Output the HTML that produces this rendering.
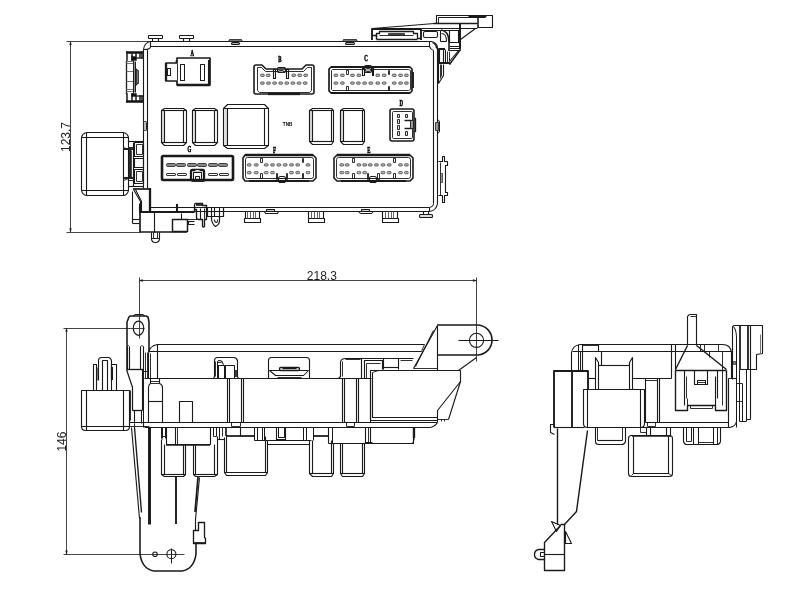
<!DOCTYPE html>
<html><head><meta charset="utf-8"><title>Fuse box drawing</title>
<style>
html,body{margin:0;padding:0;background:#fff;}
body{width:791px;height:600px;overflow:hidden;}
svg{display:block;font-family:"Liberation Sans",sans-serif;filter:grayscale(1);}
</style></head><body>
<svg width="791" height="600" viewBox="0 0 791 600" fill="none" stroke="#1a1a1a" stroke-width="1" stroke-linejoin="round" stroke-linecap="butt">
<polyline points="66.5,41.5 150.5,41.5" stroke-width="1.01" stroke="#444"/>
<polyline points="70.5,41.5 70.5,232.5" stroke-width="1.01" stroke="#444"/>
<polyline points="66.5,232.5 140.5,232.5" stroke-width="1.01" stroke="#444"/>
<polygon points="70.5,41.5 69.6,45 71.4,45" stroke-width="0.4" fill="#222"/>
<polygon points="70.5,232 69.6,228.5 71.4,228.5" stroke-width="0.4" fill="#222"/>
<text x="70.2" y="137" font-size="12" text-anchor="middle" fill="#222" stroke="none" transform="rotate(-90 70.2 137)">123.7</text>
<path d="M 143.5,188.5 V 49.5 Q 144.5,42.5 150.5,41.5 H 431.5 Q 437.5,42.5 437.5,48.5 V 203.5 Q 436.5,210.5 429.5,211.5 H 150.5" stroke-width="1.12"/>
<path d="M 147.5,188.5 V 49.5 M 143.5,49.5 H 147.5 M 150.5,41.5 V 46.5 H 429.5 M 433.5,50.5 V 203.5 M 429.5,207.5 H 150.5 M 429.5,207.5 V 211.5" stroke-width="1.12"/>
<path d="M 144.5,49.5 Q 150.5,49.5 150.5,46.5" stroke-width="1.01"/>
<path d="M 429.5,41.5 V 46.5 Q 430.5,49.5 433.5,50.5" stroke-width="1.01"/>
<path d="M 432.5,42.5 Q 436.5,44.5 436.5,48.5" stroke-width="1.37"/>
<path d="M 433.5,203.5 Q 433.5,206.5 429.5,207.5" stroke-width="1.01"/>
<rect x="148.5" y="35.5" width="14" height="3" rx="0.6" stroke-width="1.12"/>
<polyline points="152.5,38.5 152.5,41.5" stroke-width="1.12"/>
<polyline points="158.5,38.5 158.5,41.5" stroke-width="1.12"/>
<rect x="179.5" y="35.5" width="14" height="3" rx="0.6" stroke-width="1.12"/>
<polyline points="183.5,38.5 183.5,41.5" stroke-width="1.12"/>
<polyline points="189.5,38.5 189.5,41.5" stroke-width="1.12"/>
<polygon points="228.5,41.5 229.5,39.5 241.5,39.5 242.5,41.5" stroke-width="0.78" fill="#777"/>
<rect x="231.5" y="42.5" width="8" height="2" rx="1" stroke-width="1.01" fill="#aaa"/>
<polygon points="342.5,41.5 343.5,39.5 356.5,39.5 357.5,41.5" stroke-width="0.78" fill="#777"/>
<rect x="345.5" y="42.5" width="9" height="2" rx="1" stroke-width="1.01" fill="#aaa"/>
<polyline points="372.5,28.5 434.5,23.5" stroke-width="1.12"/>
<rect x="161.5" y="110.5" width="3" height="32" stroke-width="0.01" fill="#ddd"/>
<path d="M 161.5,110.5 L 164.5,108.5 H 183.5 L 186.5,110.5 V 142.5 L 183.5,145.5 H 164.5 L 161.5,142.5 Z" stroke-width="1.12"/>
<polyline points="161.5,110.5 186.5,110.5" stroke-width="1.12"/>
<polyline points="161.5,142.5 186.5,142.5" stroke-width="1.12"/>
<polyline points="164.5,110.5 164.5,142.5" stroke-width="1.12"/>
<polyline points="183.5,110.5 183.5,142.5" stroke-width="1.12"/>
<rect x="193.5" y="110.5" width="2" height="32" stroke-width="0.01" fill="#ddd"/>
<path d="M 192.5,110.5 L 195.5,108.5 H 214.5 L 217.5,110.5 V 142.5 L 214.5,145.5 H 195.5 L 192.5,142.5 Z" stroke-width="1.12"/>
<polyline points="192.5,110.5 217.5,110.5" stroke-width="1.12"/>
<polyline points="192.5,142.5 217.5,142.5" stroke-width="1.12"/>
<polyline points="195.5,110.5 195.5,142.5" stroke-width="1.12"/>
<polyline points="214.5,110.5 214.5,142.5" stroke-width="1.12"/>
<rect x="224.5" y="108.5" width="3" height="37" stroke-width="0.01" fill="#ddd"/>
<path d="M 223.5,108.5 L 227.5,104.5 H 264.5 L 268.5,108.5 V 145.5 L 264.5,148.5 H 227.5 L 223.5,145.5 Z" stroke-width="1.12"/>
<polyline points="223.5,108.5 268.5,108.5" stroke-width="1.12"/>
<polyline points="223.5,145.5 268.5,145.5" stroke-width="1.12"/>
<polyline points="227.5,108.5 227.5,145.5" stroke-width="1.12"/>
<polyline points="264.5,108.5 264.5,145.5" stroke-width="1.12"/>
<rect x="309.5" y="110.5" width="3" height="31" stroke-width="0.01" fill="#ddd"/>
<path d="M 309.5,110.5 L 312.5,108.5 H 331.5 L 333.5,110.5 V 141.5 L 331.5,144.5 H 312.5 L 309.5,141.5 Z" stroke-width="1.12"/>
<polyline points="309.5,110.5 333.5,110.5" stroke-width="1.12"/>
<polyline points="309.5,141.5 333.5,141.5" stroke-width="1.12"/>
<polyline points="312.5,110.5 312.5,141.5" stroke-width="1.12"/>
<polyline points="331.5,110.5 331.5,141.5" stroke-width="1.12"/>
<rect x="340.5" y="110.5" width="3" height="31" stroke-width="0.01" fill="#ddd"/>
<path d="M 340.5,110.5 L 343.5,108.5 H 362.5 L 364.5,110.5 V 141.5 L 362.5,144.5 H 343.5 L 340.5,141.5 Z" stroke-width="1.12"/>
<polyline points="340.5,110.5 364.5,110.5" stroke-width="1.12"/>
<polyline points="340.5,141.5 364.5,141.5" stroke-width="1.12"/>
<polyline points="343.5,110.5 343.5,141.5" stroke-width="1.12"/>
<polyline points="362.5,110.5 362.5,141.5" stroke-width="1.12"/>
<text x="287.6" y="126.2" font-size="4.6" text-anchor="middle" fill="#000" stroke="none" font-weight="bold">TNB</text>
<path d="M 177,58 H 210 V 85 H 177 V 81 H 166 V 63 H 177 Z" stroke-width="1.68"/>
<polyline points="177,85 210,85" stroke-width="2.52"/>
<polyline points="209,60 209,85" stroke-width="2.1"/>
<polyline points="166,63 166,81" stroke-width="2.31"/>
<polyline points="175.5,61.5 177.5,60.5" stroke-width="1.12"/>
<rect x="180.5" y="64.5" width="4" height="16" stroke-width="1.01"/>
<rect x="200.5" y="64.5" width="4" height="16" stroke-width="1.01"/>
<rect x="167.5" y="68.5" width="3" height="7" stroke-width="1.01"/>
<polyline points="177.5,63.5 177.5,80.5" stroke-width="0.9"/>
<text transform="translate(192.3 56.3) scale(0.62 1)" font-size="7.8" font-weight="bold" text-anchor="middle" fill="#000" stroke="#000" stroke-width="0.55" font-family="Liberation Serif,serif">A</text>
<path d="M 256,65 H 262 L 266,69 H 302 L 306,65 H 312 Q 314,65 314,67 V 92 Q 314,94 312,94 H 256 Q 254,94 254,92 V 67 Q 254,65 256,65 Z" stroke-width="1.58"/>
<path d="M 257.5,67.5 H 261.5 L 265.5,71.5 H 303.5 L 307.5,67.5 H 311.5 V 90.5 L 309.5,92.5 H 259.5 L 257.5,90.5 Z" stroke-width="0.9"/>
<polyline points="268,94 300,94" stroke-width="2.31"/>
<rect x="277.5" y="67.5" width="8" height="5" rx="1.2" stroke-width="1.12"/>
<rect x="278.5" y="70.5" width="5" height="2" rx="0.8" stroke-width="0.9" fill="#aaa"/>
<rect x="273.5" y="69.5" width="2" height="9" stroke-width="1.12"/>
<rect x="286.5" y="69.5" width="2" height="9" stroke-width="1.12"/>
<rect x="260.5" y="74.1" width="3.8" height="2.4" rx="1" stroke="#333" stroke-width="0.7" fill="#b5b5b5"/>
<rect x="266.3" y="74.1" width="3.8" height="2.4" rx="1" stroke="#333" stroke-width="0.7" fill="#b5b5b5"/>
<rect x="291.8" y="74.1" width="3.8" height="2.4" rx="1" stroke="#333" stroke-width="0.7" fill="#b5b5b5"/>
<rect x="297.8" y="74.1" width="3.8" height="2.4" rx="1" stroke="#333" stroke-width="0.7" fill="#b5b5b5"/>
<rect x="303.8" y="74.1" width="3.8" height="2.4" rx="1" stroke="#333" stroke-width="0.7" fill="#b5b5b5"/>
<rect x="260.5" y="81.9" width="3.8" height="2.4" rx="1" stroke="#333" stroke-width="0.7" fill="#b5b5b5"/>
<rect x="266.6" y="81.9" width="3.8" height="2.4" rx="1" stroke="#333" stroke-width="0.7" fill="#b5b5b5"/>
<rect x="272.7" y="81.9" width="3.8" height="2.4" rx="1" stroke="#333" stroke-width="0.7" fill="#b5b5b5"/>
<rect x="278.8" y="81.9" width="3.8" height="2.4" rx="1" stroke="#333" stroke-width="0.7" fill="#b5b5b5"/>
<rect x="284.9" y="81.9" width="3.8" height="2.4" rx="1" stroke="#333" stroke-width="0.7" fill="#b5b5b5"/>
<rect x="291" y="81.9" width="3.8" height="2.4" rx="1" stroke="#333" stroke-width="0.7" fill="#b5b5b5"/>
<rect x="297.1" y="81.9" width="3.8" height="2.4" rx="1" stroke="#333" stroke-width="0.7" fill="#b5b5b5"/>
<rect x="303.2" y="81.9" width="3.8" height="2.4" rx="1" stroke="#333" stroke-width="0.7" fill="#b5b5b5"/>
<text transform="translate(279.8 61.8) scale(0.62 1)" font-size="7.8" font-weight="bold" text-anchor="middle" fill="#000" stroke="#000" stroke-width="0.55" font-family="Liberation Serif,serif">B</text>
<path d="M 331,67 H 410 L 412,69 V 91 L 410,93 H 331 L 329,91 V 69 Z" stroke-width="1.68"/>
<path d="M 332.5,69.5 H 408.5 L 410.5,70.5 V 89.5 L 408.5,90.5 H 332.5 L 331.5,89.5 V 70.5 Z" stroke-width="0.9"/>
<polyline points="331,67 410,67" stroke-width="2.1"/>
<polyline points="331,93 410,93" stroke-width="2.1"/>
<polyline points="413,72 413,88" stroke-width="1.89"/>
<rect x="364.5" y="65.5" width="7" height="7" rx="1.5" stroke-width="1.12"/>
<rect x="365.5" y="68.5" width="5" height="3" rx="0.8" stroke-width="0.9" fill="#bbb"/>
<rect x="362.5" y="68.5" width="2" height="7" stroke-width="1.12"/>
<rect x="372.5" y="68.5" width="1" height="7" stroke-width="1.12"/>
<rect x="346.5" y="70.5" width="2" height="4" stroke-width="0.9"/>
<rect x="346.5" y="86.5" width="2" height="4" stroke-width="0.9"/>
<rect x="388.5" y="70.5" width="1" height="4" stroke-width="0.9"/>
<rect x="388.5" y="86.5" width="1" height="4" stroke-width="0.9"/>
<rect x="334" y="74.1" width="3.8" height="2.4" rx="1" stroke="#333" stroke-width="0.7" fill="#b5b5b5"/>
<rect x="340.5" y="74.1" width="3.8" height="2.4" rx="1" stroke="#333" stroke-width="0.7" fill="#b5b5b5"/>
<rect x="350.6" y="74.1" width="3.8" height="2.4" rx="1" stroke="#333" stroke-width="0.7" fill="#b5b5b5"/>
<rect x="357" y="74.1" width="3.8" height="2.4" rx="1" stroke="#333" stroke-width="0.7" fill="#b5b5b5"/>
<rect x="375.9" y="74.1" width="3.8" height="2.4" rx="1" stroke="#333" stroke-width="0.7" fill="#b5b5b5"/>
<rect x="382.3" y="74.1" width="3.8" height="2.4" rx="1" stroke="#333" stroke-width="0.7" fill="#b5b5b5"/>
<rect x="392.3" y="74.1" width="3.8" height="2.4" rx="1" stroke="#333" stroke-width="0.7" fill="#b5b5b5"/>
<rect x="398.7" y="74.1" width="3.8" height="2.4" rx="1" stroke="#333" stroke-width="0.7" fill="#b5b5b5"/>
<rect x="404.5" y="74.1" width="3.8" height="2.4" rx="1" stroke="#333" stroke-width="0.7" fill="#b5b5b5"/>
<rect x="334" y="81.9" width="3.8" height="2.4" rx="1" stroke="#333" stroke-width="0.7" fill="#b5b5b5"/>
<rect x="340.5" y="81.9" width="3.8" height="2.4" rx="1" stroke="#333" stroke-width="0.7" fill="#b5b5b5"/>
<rect x="350.6" y="81.9" width="3.8" height="2.4" rx="1" stroke="#333" stroke-width="0.7" fill="#b5b5b5"/>
<rect x="356.5" y="81.9" width="3.8" height="2.4" rx="1" stroke="#333" stroke-width="0.7" fill="#b5b5b5"/>
<rect x="362.7" y="81.9" width="3.8" height="2.4" rx="1" stroke="#333" stroke-width="0.7" fill="#b5b5b5"/>
<rect x="368.9" y="81.9" width="3.8" height="2.4" rx="1" stroke="#333" stroke-width="0.7" fill="#b5b5b5"/>
<rect x="375.9" y="81.9" width="3.8" height="2.4" rx="1" stroke="#333" stroke-width="0.7" fill="#b5b5b5"/>
<rect x="382.3" y="81.9" width="3.8" height="2.4" rx="1" stroke="#333" stroke-width="0.7" fill="#b5b5b5"/>
<rect x="392.3" y="81.9" width="3.8" height="2.4" rx="1" stroke="#333" stroke-width="0.7" fill="#b5b5b5"/>
<rect x="398.7" y="81.9" width="3.8" height="2.4" rx="1" stroke="#333" stroke-width="0.7" fill="#b5b5b5"/>
<rect x="404.5" y="81.9" width="3.8" height="2.4" rx="1" stroke="#333" stroke-width="0.7" fill="#b5b5b5"/>
<text transform="translate(366.1 61) scale(0.62 1)" font-size="7.8" font-weight="bold" text-anchor="middle" fill="#000" stroke="#000" stroke-width="0.55" font-family="Liberation Serif,serif">C</text>
<rect x="390" y="109" width="24" height="32" rx="2" stroke-width="1.58"/>
<rect x="392.5" y="111.5" width="20" height="27" rx="1.2" stroke-width="0.9"/>
<path d="M 414.5,118.5 H 415.5 V 131.5 H 414.5" stroke-width="1.34"/>
<rect x="397.5" y="114.5" width="2" height="3" stroke-width="0.9" fill="#ddd"/>
<rect x="397.5" y="119.5" width="2" height="4" stroke-width="0.9" fill="#ddd"/>
<rect x="397.5" y="125.5" width="2" height="4" stroke-width="0.9" fill="#ddd"/>
<rect x="397.5" y="131.5" width="2" height="4" stroke-width="0.9" fill="#ddd"/>
<rect x="405.5" y="114.5" width="2" height="3" stroke-width="0.9" fill="#ddd"/>
<rect x="405.5" y="131.5" width="2" height="4" stroke-width="0.9" fill="#ddd"/>
<polyline points="404.5,120.5 411.5,120.5" stroke-width="1.47"/>
<polyline points="404.5,128.5 411.5,128.5" stroke-width="1.47"/>
<rect x="410.5" y="120.5" width="3" height="8" stroke-width="0.9" fill="#999"/>
<text transform="translate(401.3 106) scale(0.62 1)" font-size="7.8" font-weight="bold" text-anchor="middle" fill="#000" stroke="#000" stroke-width="0.55" font-family="Liberation Serif,serif">D</text>
<rect x="162" y="156" width="71" height="24" rx="1.2" stroke-width="2.62"/>
<rect x="166.5" y="163.5" width="9" height="3" rx="1.1" stroke-width="0.78" fill="#888"/>
<rect x="176.5" y="163.5" width="9" height="3" rx="1.1" stroke-width="0.78" fill="#888"/>
<rect x="187.5" y="163.5" width="9" height="3" rx="1.1" stroke-width="0.78" fill="#888"/>
<rect x="197.5" y="163.5" width="9" height="3" rx="1.1" stroke-width="0.78" fill="#888"/>
<rect x="208.5" y="163.5" width="9" height="3" rx="1.1" stroke-width="0.78" fill="#888"/>
<rect x="218.5" y="163.5" width="9" height="3" rx="1.1" stroke-width="0.78" fill="#888"/>
<rect x="166.5" y="173.5" width="9" height="2" rx="0.5" stroke-width="0.9"/>
<rect x="177.5" y="173.5" width="9" height="2" rx="0.5" stroke-width="0.9"/>
<rect x="208.5" y="173.5" width="9" height="2" rx="0.5" stroke-width="0.9"/>
<rect x="219.5" y="173.5" width="9" height="2" rx="0.5" stroke-width="0.9"/>
<path d="M 191,180 V 172 Q 191,170 192,170 H 203 Q 204,170 204,172 V 180" stroke-width="2.31"/>
<rect x="193.5" y="172.5" width="8" height="7" stroke-width="1.01"/>
<rect x="195.5" y="176.5" width="4" height="3" stroke-width="1.01"/>
<polyline points="195.5,170.5 199.5,170.5" stroke-width="0.9" stroke="#fff"/>
<polyline points="191.5,181.5 204.5,181.5" stroke-width="0.9"/>
<text transform="translate(189.4 151.5) scale(0.62 1)" font-size="7.8" font-weight="bold" text-anchor="middle" fill="#000" stroke="#000" stroke-width="0.55" font-family="Liberation Serif,serif">G</text>
<path d="M 245,155 H 313 L 316,158 V 178 L 313,181 H 245 L 243,178 V 158 Z" stroke-width="1.58"/>
<rect x="245.5" y="157.5" width="68" height="21" rx="2" stroke-width="0.9"/>
<polyline points="245,155 313,155" stroke-width="2.31"/>
<polyline points="249,181 309,181" stroke-width="2.1"/>
<rect x="278.5" y="176.5" width="7" height="6" rx="2" stroke-width="1.12"/>
<polyline points="278.5,178.5 285.5,178.5" stroke-width="0.9"/>
<rect x="276.5" y="173.5" width="1" height="6" stroke-width="0.9"/>
<rect x="286.5" y="173.5" width="1" height="6" stroke-width="0.9"/>
<rect x="260.5" y="158.5" width="2" height="4" stroke-width="0.9"/>
<rect x="260.5" y="173.5" width="2" height="5" stroke-width="0.9"/>
<rect x="302.5" y="158.5" width="1" height="4" stroke-width="0.9"/>
<rect x="302.5" y="173.5" width="1" height="5" stroke-width="0.9"/>
<rect x="247.3" y="163.7" width="3.8" height="2.4" rx="1" stroke="#333" stroke-width="0.7" fill="#b5b5b5"/>
<rect x="254.3" y="163.7" width="3.8" height="2.4" rx="1" stroke="#333" stroke-width="0.7" fill="#b5b5b5"/>
<rect x="264.3" y="163.7" width="3.8" height="2.4" rx="1" stroke="#333" stroke-width="0.7" fill="#b5b5b5"/>
<rect x="270.6" y="163.7" width="3.8" height="2.4" rx="1" stroke="#333" stroke-width="0.7" fill="#b5b5b5"/>
<rect x="277" y="163.7" width="3.8" height="2.4" rx="1" stroke="#333" stroke-width="0.7" fill="#b5b5b5"/>
<rect x="283.3" y="163.7" width="3.8" height="2.4" rx="1" stroke="#333" stroke-width="0.7" fill="#b5b5b5"/>
<rect x="289.6" y="163.7" width="3.8" height="2.4" rx="1" stroke="#333" stroke-width="0.7" fill="#b5b5b5"/>
<rect x="295.8" y="163.7" width="3.8" height="2.4" rx="1" stroke="#333" stroke-width="0.7" fill="#b5b5b5"/>
<rect x="306.1" y="163.7" width="3.8" height="2.4" rx="1" stroke="#333" stroke-width="0.7" fill="#b5b5b5"/>
<rect x="247.3" y="171.4" width="3.8" height="2.4" rx="1" stroke="#333" stroke-width="0.7" fill="#b5b5b5"/>
<rect x="254.3" y="171.4" width="3.8" height="2.4" rx="1" stroke="#333" stroke-width="0.7" fill="#b5b5b5"/>
<rect x="264.3" y="171.4" width="3.8" height="2.4" rx="1" stroke="#333" stroke-width="0.7" fill="#b5b5b5"/>
<rect x="270.6" y="171.4" width="3.8" height="2.4" rx="1" stroke="#333" stroke-width="0.7" fill="#b5b5b5"/>
<rect x="289.6" y="171.4" width="3.8" height="2.4" rx="1" stroke="#333" stroke-width="0.7" fill="#b5b5b5"/>
<rect x="295.8" y="171.4" width="3.8" height="2.4" rx="1" stroke="#333" stroke-width="0.7" fill="#b5b5b5"/>
<rect x="306.1" y="171.4" width="3.8" height="2.4" rx="1" stroke="#333" stroke-width="0.7" fill="#b5b5b5"/>
<text transform="translate(274.4 153.2) scale(0.62 1)" font-size="7.8" font-weight="bold" text-anchor="middle" fill="#000" stroke="#000" stroke-width="0.55" font-family="Liberation Serif,serif">F</text>
<path d="M 337,155 H 410 L 413,158 V 178 L 410,181 H 337 L 334,178 V 158 Z" stroke-width="1.58"/>
<rect x="336.5" y="157.5" width="74" height="21" rx="2" stroke-width="0.9"/>
<polyline points="337,155 410,155" stroke-width="2.31"/>
<polyline points="341,181 406,181" stroke-width="2.1"/>
<rect x="369.5" y="176.5" width="7" height="6" rx="2" stroke-width="1.12"/>
<polyline points="370.5,178.5 376.5,178.5" stroke-width="0.9"/>
<rect x="367.5" y="173.5" width="1" height="6" stroke-width="0.9"/>
<rect x="377.5" y="173.5" width="2" height="6" stroke-width="0.9"/>
<rect x="352.5" y="158.5" width="2" height="4" stroke-width="0.9"/>
<rect x="352.5" y="173.5" width="2" height="5" stroke-width="0.9"/>
<rect x="393.5" y="158.5" width="2" height="4" stroke-width="0.9"/>
<rect x="393.5" y="173.5" width="2" height="5" stroke-width="0.9"/>
<rect x="339.9" y="163.7" width="3.8" height="2.4" rx="1" stroke="#333" stroke-width="0.7" fill="#b5b5b5"/>
<rect x="345.3" y="163.7" width="3.8" height="2.4" rx="1" stroke="#333" stroke-width="0.7" fill="#b5b5b5"/>
<rect x="357" y="163.7" width="3.8" height="2.4" rx="1" stroke="#333" stroke-width="0.7" fill="#b5b5b5"/>
<rect x="362.8" y="163.7" width="3.8" height="2.4" rx="1" stroke="#333" stroke-width="0.7" fill="#b5b5b5"/>
<rect x="368.3" y="163.7" width="3.8" height="2.4" rx="1" stroke="#333" stroke-width="0.7" fill="#b5b5b5"/>
<rect x="374.5" y="163.7" width="3.8" height="2.4" rx="1" stroke="#333" stroke-width="0.7" fill="#b5b5b5"/>
<rect x="381.1" y="163.7" width="3.8" height="2.4" rx="1" stroke="#333" stroke-width="0.7" fill="#b5b5b5"/>
<rect x="387.3" y="163.7" width="3.8" height="2.4" rx="1" stroke="#333" stroke-width="0.7" fill="#b5b5b5"/>
<rect x="398.6" y="163.7" width="3.8" height="2.4" rx="1" stroke="#333" stroke-width="0.7" fill="#b5b5b5"/>
<rect x="404.5" y="163.7" width="3.8" height="2.4" rx="1" stroke="#333" stroke-width="0.7" fill="#b5b5b5"/>
<rect x="339.9" y="171.4" width="3.8" height="2.4" rx="1" stroke="#333" stroke-width="0.7" fill="#b5b5b5"/>
<rect x="345.3" y="171.4" width="3.8" height="2.4" rx="1" stroke="#333" stroke-width="0.7" fill="#b5b5b5"/>
<rect x="357" y="171.4" width="3.8" height="2.4" rx="1" stroke="#333" stroke-width="0.7" fill="#b5b5b5"/>
<rect x="362.8" y="171.4" width="3.8" height="2.4" rx="1" stroke="#333" stroke-width="0.7" fill="#b5b5b5"/>
<rect x="381.1" y="171.4" width="3.8" height="2.4" rx="1" stroke="#333" stroke-width="0.7" fill="#b5b5b5"/>
<rect x="387.3" y="171.4" width="3.8" height="2.4" rx="1" stroke="#333" stroke-width="0.7" fill="#b5b5b5"/>
<rect x="398.6" y="171.4" width="3.8" height="2.4" rx="1" stroke="#333" stroke-width="0.7" fill="#b5b5b5"/>
<rect x="404.5" y="171.4" width="3.8" height="2.4" rx="1" stroke="#333" stroke-width="0.7" fill="#b5b5b5"/>
<text transform="translate(368.8 153.2) scale(0.62 1)" font-size="7.8" font-weight="bold" text-anchor="middle" fill="#000" stroke="#000" stroke-width="0.55" font-family="Liberation Serif,serif">E</text>
<rect x="244.5" y="218.5" width="16" height="4" stroke-width="1.12"/>
<polyline points="245.5,211.5 245.5,218.5" stroke-width="1.12"/>
<polyline points="259.5,211.5 259.5,218.5" stroke-width="1.12"/>
<polyline points="247.5,211.5 247.5,218.5" stroke-width="0.9" stroke="#555"/>
<polyline points="250.5,211.5 250.5,218.5" stroke-width="0.9" stroke="#555"/>
<polyline points="253.5,211.5 253.5,218.5" stroke-width="0.9" stroke="#555"/>
<polyline points="255.5,211.5 255.5,218.5" stroke-width="0.9" stroke="#555"/>
<rect x="308.5" y="218.5" width="16" height="4" stroke-width="1.12"/>
<polyline points="308.5,211.5 308.5,218.5" stroke-width="1.12"/>
<polyline points="323.5,211.5 323.5,218.5" stroke-width="1.12"/>
<polyline points="311.5,211.5 311.5,218.5" stroke-width="0.9" stroke="#555"/>
<polyline points="314.5,211.5 314.5,218.5" stroke-width="0.9" stroke="#555"/>
<polyline points="317.5,211.5 317.5,218.5" stroke-width="0.9" stroke="#555"/>
<polyline points="319.5,211.5 319.5,218.5" stroke-width="0.9" stroke="#555"/>
<rect x="382.5" y="218.5" width="16" height="4" stroke-width="1.12"/>
<polyline points="382.5,211.5 382.5,218.5" stroke-width="1.12"/>
<polyline points="397.5,211.5 397.5,218.5" stroke-width="1.12"/>
<polyline points="385.5,211.5 385.5,218.5" stroke-width="0.9" stroke="#555"/>
<polyline points="388.5,211.5 388.5,218.5" stroke-width="0.9" stroke="#555"/>
<polyline points="391.5,211.5 391.5,218.5" stroke-width="0.9" stroke="#555"/>
<polyline points="393.5,211.5 393.5,218.5" stroke-width="0.9" stroke="#555"/>
<rect x="266.5" y="209.5" width="8" height="2" stroke-width="1.01" fill="#ccc"/>
<polyline points="264.5,211.5 265.5,213.5 277.5,213.5 278.5,211.5" stroke-width="1.01"/>
<rect x="361.5" y="209.5" width="8" height="2" stroke-width="1.01" fill="#ccc"/>
<polyline points="358.5,211.5 360.5,213.5 371.5,213.5 373.5,211.5" stroke-width="1.01"/>
<rect x="419.5" y="214.5" width="13" height="3" rx="1" stroke-width="1.12" fill="#ddd"/>
<polyline points="423.5,211.5 423.5,214.5" stroke-width="1.12"/>
<polyline points="428.5,211.5 428.5,214.5" stroke-width="1.12"/>
<path d="M 438.5,161.5 H 442.5 V 156.5 H 444.5 V 161.5 H 447.5 V 165.5 H 445.5 V 192.5 H 447.5 V 195.5 H 444.5 V 202.5 H 442.5 V 195.5 H 438.5" stroke-width="1.12"/>
<polyline points="440.5,162.5 440.5,195.5" stroke-width="0.9"/>
<rect x="440.5" y="173.5" width="2" height="9" stroke-width="0.67" fill="#999"/>
<path d="M 437.5,119.5 L 439.5,121.5 V 131.5 L 437.5,133.5" stroke-width="1.01"/>
<rect x="435.5" y="122.5" width="3" height="8" stroke-width="0.78" fill="#999"/>
<rect x="143.5" y="121.5" width="3" height="9" rx="0.8" stroke-width="0.9" fill="#bbb"/>
<rect x="126.5" y="51.5" width="16" height="2" stroke-width="0.5" fill="#111"/>
<rect x="126.5" y="51.5" width="1" height="9" stroke-width="0.5" fill="#111"/>
<rect x="131.5" y="53.5" width="1" height="7" stroke-width="0.5" fill="#111"/>
<rect x="131.5" y="56.5" width="5" height="4" stroke-width="0.5" fill="#111"/>
<rect x="135.5" y="53.5" width="1" height="3" stroke-width="0.5" fill="#111"/>
<rect x="139.5" y="53.5" width="1" height="4" stroke-width="0.5" fill="#111"/>
<rect x="141.5" y="51.5" width="1" height="7" stroke-width="0.5" fill="#111"/>
<rect x="136.5" y="57.5" width="6" height="1" stroke-width="0.3" fill="#111"/>
<rect x="126.5" y="100.5" width="16" height="2" stroke-width="0.5" fill="#111"/>
<rect x="126.5" y="93.5" width="1" height="9" stroke-width="0.5" fill="#111"/>
<rect x="131.5" y="93.5" width="1" height="7" stroke-width="0.5" fill="#111"/>
<rect x="131.5" y="93.5" width="5" height="3" stroke-width="0.5" fill="#111"/>
<rect x="135.5" y="96.5" width="1" height="4" stroke-width="0.5" fill="#111"/>
<rect x="139.5" y="95.5" width="1" height="5" stroke-width="0.5" fill="#111"/>
<rect x="141.5" y="95.5" width="1" height="7" stroke-width="0.5" fill="#111"/>
<rect x="136.5" y="95.5" width="6" height="1" stroke-width="0.3" fill="#111"/>
<polyline points="126.5,60.5 126.5,94.5" stroke-width="1.34" stroke="#222"/>
<polyline points="126.5,61.5 133.5,61.5" stroke-width="0.9" stroke="#666"/>
<polyline points="126.5,63.5 133.5,63.5" stroke-width="0.9" stroke="#666"/>
<polyline points="126.5,71.5 133.5,71.5" stroke-width="0.9" stroke="#666"/>
<polyline points="126.5,81.5 133.5,81.5" stroke-width="0.9" stroke="#666"/>
<polyline points="126.5,89.5 133.5,89.5" stroke-width="0.9" stroke="#666"/>
<polyline points="126.5,91.5 133.5,91.5" stroke-width="0.9" stroke="#666"/>
<polyline points="133.5,60.5 133.5,93.5" stroke-width="1.01"/>
<polyline points="135.5,61.5 135.5,92.5" stroke-width="1.01"/>
<polyline points="134.5,61.5 134.5,92.5" stroke-width="0.9" stroke="#888"/>
<rect x="136.5" y="70.5" width="2" height="13" stroke-width="0.78" fill="#777"/>
<polyline points="135.5,68.5 137.5,70.5" stroke-width="1.12"/>
<polyline points="135.5,85.5 137.5,83.5" stroke-width="1.12"/>
<rect x="81.5" y="132.5" width="47" height="63" rx="5.8" stroke-width="1.12"/>
<polyline points="86.5,132.5 86.5,195.5" stroke-width="1.12"/>
<polyline points="123.5,132.5 123.5,195.5" stroke-width="1.12"/>
<polyline points="81.5,137.5 128.5,137.5" stroke-width="1.12"/>
<polyline points="81.5,190.5 128.5,190.5" stroke-width="1.12"/>
<polyline points="128.5,141.5 143.5,141.5" stroke-width="1.12"/>
<polyline points="128.5,186.5 143.5,186.5" stroke-width="1.12"/>
<rect x="134.5" y="142.5" width="9" height="14" stroke-width="1.12"/>
<rect x="136.5" y="144.5" width="6" height="10" stroke-width="0.9"/>
<rect x="134.5" y="158.5" width="9" height="9" stroke-width="1.12"/>
<rect x="134.5" y="169.5" width="9" height="14" stroke-width="1.12"/>
<rect x="136.5" y="171.5" width="6" height="10" stroke-width="0.9"/>
<polyline points="124,149 133,149" stroke-width="1.89"/>
<polyline points="124,178 133,178" stroke-width="1.89"/>
<polyline points="130,150 130,178" stroke-width="1.89"/>
<polyline points="133.5,142.5 133.5,186.5" stroke-width="1.12"/>
<polyline points="131.5,150.5 131.5,177.5" stroke-width="0.78"/>
<polyline points="128.5,147.5 133.5,147.5" stroke-width="0.9"/>
<polyline points="128.5,180.5 133.5,180.5" stroke-width="0.9"/>
<polyline points="123.5,147.5 128.5,149.5" stroke-width="0.9"/>
<polyline points="123.5,180.5 128.5,178.5" stroke-width="0.9"/>
<polyline points="133,189 150,189" stroke-width="1.68"/>
<polyline points="150,188 150,212" stroke-width="2.31"/>
<polyline points="132.5,191.5 132.5,223.5" stroke-width="1.12"/>
<polyline points="133.5,189.5 140.5,201.5 140.5,212.5" stroke-width="1.12"/>
<polyline points="135.5,189.5 141.5,201.5 141.5,212.5" stroke-width="1.12"/>
<polyline points="139.5,203.5 139.5,212.5" stroke-width="1.12"/>
<polyline points="139,212 194,212" stroke-width="1.89"/>
<polyline points="140,212 140,232 187,232" stroke-width="1.68"/>
<polyline points="154.5,212.5 154.5,232.5" stroke-width="1.12"/>
<polyline points="132.5,219.5 139.5,219.5" stroke-width="1.12"/>
<polyline points="132.5,223.5 139.5,223.5" stroke-width="1.12"/>
<rect x="172.5" y="219.5" width="15" height="12" stroke-width="1.47"/>
<polyline points="181.5,213.5 181.5,219.5" stroke-width="1.12"/>
<polyline points="187.5,221.5 194.5,221.5" stroke-width="1.12"/>
<polyline points="188.5,221.5 188.5,224.5 194.5,224.5" stroke-width="1.12"/>
<polyline points="181.5,219.5 199.5,219.5" stroke-width="0.9"/>
<path d="M 151.5,232.5 V 238.5 Q 151.5,242.5 155.5,242.5 Q 159.5,242.5 159.5,238.5 V 232.5" stroke-width="1.12"/>
<polyline points="153.5,232.5 153.5,238.5 157.5,238.5 157.5,232.5" stroke-width="0.9"/>
<polyline points="151.5,238.5 159.5,238.5" stroke-width="0.9"/>
<polyline points="177,204 177,212" stroke-width="2.1"/>
<path d="M 194.5,212.5 V 205.5 Q 194.5,203.5 195.5,203.5 H 202.5 V 205.5 H 206.5 V 219.5 H 204.5 V 226.5 Q 203.5,227.5 202.5,226.5 V 219.5 H 198.5 Q 196.5,219.5 196.5,217.5 V 209.5 H 194.5" stroke-width="1.34"/>
<polyline points="196,205 202,205" stroke-width="1.68"/>
<polyline points="200.5,208.5 200.5,219.5" stroke-width="1.12"/>
<polyline points="204.5,208.5 204.5,219.5" stroke-width="0.9"/>
<path d="M 207.5,207.5 V 216.5 H 223.5 V 207.5" stroke-width="1.23"/>
<polyline points="211.5,207.5 211.5,216.5" stroke-width="1.12"/>
<polyline points="214.5,207.5 214.5,216.5" stroke-width="1.12"/>
<polyline points="219.5,207.5 219.5,216.5" stroke-width="1.12"/>
<path d="M 211.5,216.5 V 219.5 Q 212.5,224.5 215.5,226.5 Q 219.5,224.5 219.5,220.5 V 216.5" stroke-width="1.23"/>
<path d="M 214.5,219.5 Q 214.5,222.5 216.5,222.5 Q 217.5,222.5 217.5,219.5" stroke-width="1.01"/>
<path d="M 372,40 V 29 H 421 V 40" stroke-width="1.89"/>
<polyline points="372,29 421,29" stroke-width="1.68"/>
<path d="M 372.5,35.5 H 376.5 V 39.5" stroke-width="1.47"/>
<path d="M 376.5,36.5 V 33.5 H 379.5 V 31.5 H 413.5 V 33.5 H 417.5 V 38.5 H 420.5" stroke-width="1.34"/>
<polyline points="379.5,35.5 413.5,35.5" stroke-width="0.9"/>
<rect x="388.5" y="33.5" width="16" height="2" stroke-width="0.67" fill="#444"/>
<polyline points="376.5,39.5 417.5,39.5" stroke-width="1.34"/>
<path d="M 436.5,23.5 V 15.5 H 492.5 V 27.5 H 477.5 M 477.5,28.5 H 421.5" stroke-width="1.12"/>
<polyline points="438.5,17.5 485.5,17.5" stroke-width="1.12"/>
<polyline points="478,18 478,28" stroke-width="1.58"/>
<polyline points="468.5,16.5 486.5,16.5" stroke-width="1.47"/>
<polyline points="438.5,17.5 438.5,23.5" stroke-width="0.9"/>
<polyline points="433.5,23.5 477.5,23.5" stroke-width="1.37"/>
<polyline points="421.5,30.5 459.5,30.5" stroke-width="1.01"/>
<rect x="423.5" y="31.5" width="14" height="6" rx="1.5" stroke-width="1.12"/>
<path d="M 441,30 Q 449,31 449,42 V 51" stroke-width="1.58"/>
<path d="M 441.5,33.5 Q 446.5,33.5 446.5,41.5" stroke-width="1.01"/>
<polyline points="440.5,30.5 440.5,41.5" stroke-width="1.12"/>
<polyline points="440.5,41.5 446.5,41.5" stroke-width="1.12"/>
<polyline points="440.5,30.5 458.5,30.5" stroke-width="1.01"/>
<polyline points="449.5,30.5 449.5,42.5 458.5,42.5 458.5,30.5" stroke-width="1.12"/>
<polyline points="459.5,23.5 459.5,49.5" stroke-width="1.01"/>
<polyline points="460.5,23.5 460.5,49.5" stroke-width="1.01"/>
<polyline points="449.5,46.5 460.5,46.5" stroke-width="1.01"/>
<polyline points="449.5,48.5 460.5,48.5" stroke-width="1.01"/>
<polyline points="449.5,50.5 460.5,50.5" stroke-width="1.01"/>
<polyline points="475.5,28.5 460.5,39.5" stroke-width="1.12"/>
<polyline points="460.5,49.5 449.5,64.5" stroke-width="1.37"/>
<polyline points="458.5,50.5 449.5,61.5" stroke-width="1.01"/>
<path d="M 445,49 H 439 V 63 H 449" stroke-width="2.1"/>
<polyline points="443.5,49.5 443.5,63.5" stroke-width="1.12"/>
<polyline points="445.5,49.5 445.5,63.5" stroke-width="1.12"/>
<polyline points="447.5,51.5 447.5,63.5" stroke-width="0.9"/>
<polyline points="449.5,51.5 449.5,64.5" stroke-width="0.9"/>
<polyline points="438.5,63.5 438.5,83.5" stroke-width="1.12"/>
<polyline points="440.5,64.5 440.5,78.5" stroke-width="0.9"/>
<polyline points="443.5,64.5 443.5,75.5 438.5,83.5" stroke-width="1.12"/>
<polyline points="441.5,64.5 441.5,76.5" stroke-width="0.9"/>
<polyline points="139.5,277.5 139.5,338.5" stroke-width="1.01" stroke="#444"/>
<polyline points="476.5,277.5 476.5,361.5" stroke-width="1.01" stroke="#444"/>
<polyline points="139.5,280.5 476.5,280.5" stroke-width="1.01" stroke="#444"/>
<polygon points="139.2,280.5 142.7,279.6 142.7,281.4" stroke-width="0.4" fill="#222"/>
<polygon points="476.5,280.5 473,279.6 473,281.4" stroke-width="0.4" fill="#222"/>
<text x="321.8" y="280" font-size="12" text-anchor="middle" fill="#222" stroke="none">218.3</text>
<polyline points="63.5,328.5 144.5,328.5" stroke-width="1.01" stroke="#444"/>
<polyline points="66.5,328.5 66.5,554.5" stroke-width="1.01" stroke="#444"/>
<polyline points="63.5,554.5 184.5,554.5" stroke-width="1.01" stroke="#444"/>
<polygon points="66.5,328 65.6,331.5 67.4,331.5" stroke-width="0.4" fill="#222"/>
<polygon points="66.5,554.2 65.6,550.7 67.4,550.7" stroke-width="0.4" fill="#222"/>
<text x="66" y="441.6" font-size="12" text-anchor="middle" fill="#222" stroke="none" transform="rotate(-90 66 441.6)">146</text>
<path d="M 127,369 V 322 L 129,317 L 130,316 H 146 L 148,317 L 149,322 V 352" stroke-width="1.58"/>
<path d="M 133.5,316.5 Q 134.5,314.5 135.5,314.5 H 142.5 Q 143.5,314.5 144.5,316.5" stroke-width="1.01"/>
<ellipse cx="138.5" cy="328.2" rx="5.2" ry="7.1" stroke-width="1.23"/>
<polyline points="127.5,346.5 127.5,369.5" stroke-width="1.12"/>
<polyline points="129.5,346.5 129.5,369.5" stroke-width="1.12"/>
<polyline points="140.5,346.5 140.5,369.5" stroke-width="1.12"/>
<polyline points="143.5,346.5 143.5,369.5" stroke-width="1.12"/>
<path d="M 127.5,346.5 Q 128.5,344.5 129.5,346.5" stroke-width="0.9"/>
<path d="M 140.5,346.5 Q 141.5,344.5 143.5,346.5" stroke-width="0.9"/>
<polyline points="126.5,369.5 143.5,369.5" stroke-width="1.34"/>
<polyline points="126.5,369.5 132.5,387.5 132.5,410.5" stroke-width="1.23"/>
<polyline points="142.5,369.5 142.5,410.5" stroke-width="1.12"/>
<polyline points="132.5,410.5 142.5,410.5" stroke-width="1.34"/>
<polyline points="134.5,410.5 134.5,423.5" stroke-width="1.12"/>
<polyline points="141.5,410.5 141.5,423.5" stroke-width="1.12"/>
<polyline points="143.5,352.5 143.5,422.5" stroke-width="1.01"/>
<polyline points="145.5,352.5 145.5,378.5" stroke-width="0.9"/>
<polyline points="147.5,352.5 147.5,378.5" stroke-width="0.9"/>
<polyline points="143.5,371.5 147.5,371.5" stroke-width="0.9"/>
<polyline points="130.5,390.5 130.5,420.5" stroke-width="0.9"/>
<path d="M 81.5,390.5 H 129.5 V 426.5 Q 129.5,430.5 125.5,430.5 H 85.5 Q 81.5,430.5 81.5,426.5 Z" stroke-width="1.12"/>
<polyline points="86.5,390.5 86.5,430.5" stroke-width="1.12"/>
<polyline points="123.5,390.5 123.5,430.5" stroke-width="1.12"/>
<polyline points="81.5,426.5 129.5,426.5" stroke-width="1.12"/>
<path d="M 98.5,380.5 V 360.5 Q 98.5,357.5 101.5,357.5 H 108.5 Q 110.5,357.5 111.5,360.5 V 380.5" stroke-width="1.12"/>
<polyline points="102.5,390.5 102.5,360.5 107.5,360.5 107.5,390.5" stroke-width="1.12"/>
<polyline points="93.5,390.5 93.5,364.5 96.5,364.5 96.5,390.5" stroke-width="1.12"/>
<polyline points="111.5,390.5 111.5,364.5 116.5,364.5 116.5,390.5" stroke-width="1.12"/>
<polyline points="112,367 112,380" stroke-width="2.1"/>
<polyline points="97.5,367.5 97.5,380.5" stroke-width="0.9" stroke="#666"/>
<path d="M 148.5,378.5 V 353.5 Q 149.5,345.5 157.5,344.5 H 424.5" stroke-width="1.12"/>
<polyline points="150.5,353.5 150.5,378.5" stroke-width="0.9"/>
<polyline points="157.5,344.5 157.5,378.5" stroke-width="1.12"/>
<polyline points="149.5,351.5 421.5,351.5" stroke-width="1.12"/>
<polyline points="144.5,378.5 371.5,378.5" stroke-width="1.12"/>
<path d="M 150.5,378.5 V 383.5 Q 148.5,384.5 148.5,387.5 V 422.5 M 159.5,378.5 V 383.5 Q 162.5,384.5 162.5,387.5 V 422.5" stroke-width="1.12"/>
<polyline points="150.5,381.5 159.5,381.5" stroke-width="0.9"/>
<polyline points="150.5,383.5 159.5,383.5" stroke-width="0.9"/>
<polyline points="148.5,401.5 162.5,401.5" stroke-width="1.12"/>
<rect x="179.5" y="401.5" width="13" height="21" stroke-width="1.12"/>
<path d="M 213.5,378.5 L 214.5,376.5 V 360.5 Q 214.5,357.5 217.5,357.5 H 233.5 Q 236.5,357.5 237.5,360.5 V 376.5 L 238.5,378.5" stroke-width="1.12"/>
<polyline points="215.5,376.5 215.5,361.5" stroke-width="0.9"/>
<polyline points="236,370 236,377" stroke-width="1.68"/>
<path d="M 217.5,378.5 V 362.5 Q 217.5,360.5 219.5,360.5 Q 222.5,360.5 223.5,365.5" stroke-width="1.01"/>
<rect x="218.5" y="365.5" width="6" height="13" stroke-width="1.01"/>
<rect x="225.5" y="365.5" width="9" height="13" stroke-width="1.01"/>
<polyline points="217.5,362.5 221.5,362.5" stroke-width="0.9"/>
<rect x="227.5" y="378.5" width="16" height="44" stroke-width="1.12"/>
<polyline points="229.5,378.5 229.5,422.5" stroke-width="1.12"/>
<polyline points="241.5,378.5 241.5,422.5" stroke-width="1.12"/>
<path d="M 268.5,378.5 V 360.5 Q 268.5,357.5 271.5,357.5 H 306.5 Q 309.5,357.5 309.5,360.5 V 378.5" stroke-width="1.12"/>
<polyline points="269.5,370.5 308.5,370.5" stroke-width="1.12"/>
<polyline points="269.5,370.5 275.5,375.5 303.5,375.5 308.5,370.5" stroke-width="1.01"/>
<rect x="279.5" y="367.5" width="20" height="3" rx="1.2" stroke-width="1.34"/>
<polyline points="282.5,368.5 296.5,368.5" stroke-width="1.34"/>
<polyline points="277.5,377.5 301.5,377.5" stroke-width="0.9"/>
<path d="M 338.5,378.5 L 340.5,376.5 V 361.5 Q 341.5,358.5 345.5,358.5 H 413.5" stroke-width="1.12"/>
<polyline points="342.5,361.5 342.5,376.5" stroke-width="0.9"/>
<polyline points="345.5,359.5 360.5,359.5" stroke-width="0.9"/>
<polyline points="361.5,358.5 361.5,378.5" stroke-width="1.12"/>
<polyline points="364.5,378.5 364.5,360.5 382.5,360.5 382.5,369.5" stroke-width="1.12"/>
<polyline points="366.5,378.5 366.5,363.5 380.5,363.5" stroke-width="0.9"/>
<polyline points="383.5,358.5 383.5,369.5" stroke-width="1.12"/>
<polyline points="383.5,367.5 398.5,367.5" stroke-width="1.12"/>
<polyline points="398.5,358.5 398.5,369.5" stroke-width="1.12"/>
<polyline points="400.5,360.5 412.5,360.5" stroke-width="0.9"/>
<rect x="342.5" y="378.5" width="16" height="44" stroke-width="1.12"/>
<polyline points="344.5,378.5 344.5,422.5" stroke-width="1.12"/>
<polyline points="356.5,378.5 356.5,422.5" stroke-width="1.12"/>
<path d="M 460.5,370.5 H 370.5 V 420.5 H 437.5" stroke-width="1.12"/>
<polyline points="372.5,372.5 372.5,417.5 437.5,417.5" stroke-width="1.12"/>
<polyline points="372.5,372.5 378.5,370.5" stroke-width="0.9"/>
<polyline points="370.5,378.5 370.5,422.5" stroke-width="1.12"/>
<polyline points="460.5,370.5 460.5,381.5 448.5,419.5" stroke-width="1.12"/>
<polyline points="460.5,381.5 437.5,410.5 437.5,422.5" stroke-width="1.12"/>
<polyline points="448.5,419.5 437.5,419.5" stroke-width="0.9"/>
<polyline points="441.5,419.5 441.5,421.5" stroke-width="0.9"/>
<polyline points="444.5,419.5 444.5,421.5" stroke-width="0.9"/>
<path d="M 437,325 H 477 A 14,14 0 0 1 477,355 H 437" stroke-width="1.58"/>
<polyline points="437.5,325.5 437.5,370.5" stroke-width="1.12"/>
<ellipse cx="476.5" cy="340.3" rx="7.1" ry="7.1" stroke-width="1.12"/>
<polyline points="458.5,340.5 498.5,340.5" stroke-width="1.01"/>
<polyline points="437.5,325.5 413.5,368.5" stroke-width="1.12"/>
<polyline points="433.5,330.5 415.5,366.5" stroke-width="1.01"/>
<polyline points="413.5,368.5 437.5,368.5" stroke-width="0.9"/>
<polyline points="476.5,357.5 458.5,370.5" stroke-width="1.12"/>
<polyline points="424.5,344.5 421.5,351.5" stroke-width="0.9"/>
<path d="M 129.5,422.5 H 437.5" stroke-width="1.12"/>
<path d="M 144.5,427.5 H 428.5 Q 434.5,427.5 437.5,422.5" stroke-width="1.12"/>
<polyline points="143.5,422.5 143.5,427.5" stroke-width="1.12"/>
<polyline points="129.5,426.5 149.5,426.5" stroke-width="0.9"/>
<polyline points="134.5,423.5 134.5,430.5" stroke-width="0.9"/>
<rect x="231.5" y="422.5" width="9" height="4" stroke-width="0.9"/>
<rect x="346.5" y="422.5" width="8" height="4" stroke-width="0.9"/>
<polyline points="131.5,427.5 139.5,518.5" stroke-width="1.12"/>
<polyline points="134.5,427.5 141.5,512.5" stroke-width="1.37"/>
<polyline points="149.5,427.5 149.5,524.5" stroke-width="2.94"/>
<polyline points="176,477 176,524" stroke-width="1.89"/>
<polyline points="199.5,477.5 195.5,519.5" stroke-width="1.12"/>
<polyline points="198,477 195,512" stroke-width="1.68"/>
<path d="M 140,517 V 554 Q 142,569 154,571 H 182 Q 194,569 196,554 V 544" stroke-width="1.58"/>
<path d="M 196.5,543.5 H 205.5 L 205.5,538.5 L 204.5,537.5 V 522.5 H 198.5 V 530.5 H 193.5 V 543.5 Z" stroke-width="1.34"/>
<polyline points="194,543 206,543" stroke-width="1.68"/>
<polyline points="195.5,518.5 195.5,530.5" stroke-width="1.12"/>
<ellipse cx="155" cy="554.2" rx="2.3" ry="2.3" stroke-width="1.01"/>
<ellipse cx="171.4" cy="554.2" rx="4.5" ry="4.5" stroke-width="1.12"/>
<polyline points="171.5,548.5 171.5,563.5" stroke-width="1.01"/>
<polyline points="161.5,427.5 161.5,438.5" stroke-width="1.01"/>
<polyline points="162.5,427.5 162.5,438.5" stroke-width="1.01"/>
<polyline points="165.5,427.5 165.5,438.5" stroke-width="1.01"/>
<polyline points="162.5,436.5 165.5,436.5" stroke-width="0.9"/>
<polyline points="161.5,438.5 162.5,439.5" stroke-width="0.9"/>
<rect x="166.5" y="427.5" width="44" height="17" stroke-width="1.12"/>
<polyline points="166,445 210,445" stroke-width="1.68"/>
<polyline points="175.5,427.5 175.5,444.5" stroke-width="1.12"/>
<polyline points="177.5,427.5 177.5,444.5" stroke-width="0.9"/>
<path d="M 161.5,439.5 V 474.5 L 164.5,476.5 H 183.5 L 185.5,474.5 V 444.5" stroke-width="1.12"/>
<polyline points="164.5,444.5 164.5,474.5" stroke-width="1.12"/>
<polyline points="183.5,444.5 183.5,474.5" stroke-width="1.12"/>
<polyline points="161.5,474.5 185.5,474.5" stroke-width="1.12"/>
<polyline points="210.5,427.5 210.5,436.5" stroke-width="1.01"/>
<polyline points="213.5,427.5 213.5,436.5" stroke-width="1.01"/>
<polyline points="216.5,427.5 216.5,436.5" stroke-width="1.01"/>
<polyline points="213.5,436.5 216.5,436.5" stroke-width="0.9"/>
<path d="M 193.5,444.5 V 474.5 L 195.5,476.5 H 214.5 L 217.5,474.5 V 436.5" stroke-width="1.12"/>
<polyline points="195.5,444.5 195.5,474.5" stroke-width="1.12"/>
<polyline points="214.5,444.5 214.5,474.5" stroke-width="1.12"/>
<polyline points="193.5,474.5 217.5,474.5" stroke-width="1.12"/>
<polyline points="217.5,439.5 224.5,439.5" stroke-width="1.12"/>
<polyline points="219.5,427.5 219.5,439.5" stroke-width="1.01"/>
<polyline points="222.5,427.5 222.5,436.5" stroke-width="0.9"/>
<path d="M 224.5,437.5 V 472.5 L 226.5,475.5 H 265.5 L 267.5,472.5 V 440.5" stroke-width="1.12"/>
<polyline points="226.5,436.5 226.5,472.5" stroke-width="1.12"/>
<polyline points="265.5,436.5 265.5,472.5" stroke-width="1.12"/>
<polyline points="224.5,472.5 267.5,472.5" stroke-width="1.12"/>
<polyline points="226,436 255,436" stroke-width="1.78"/>
<polyline points="226,427 226,436" stroke-width="1.68"/>
<polyline points="240.5,427.5 240.5,436.5" stroke-width="1.12"/>
<polyline points="254.5,427.5 254.5,440.5" stroke-width="1.01"/>
<polyline points="257.5,427.5 257.5,440.5" stroke-width="1.01"/>
<polyline points="262.5,427.5 262.5,440.5" stroke-width="1.01"/>
<polyline points="264.5,427.5 264.5,440.5" stroke-width="1.01"/>
<polyline points="254.5,440.5 311.5,440.5" stroke-width="1.12"/>
<polyline points="267.5,444.5 309.5,444.5" stroke-width="1.12"/>
<rect x="276.5" y="427.5" width="9" height="12" stroke-width="1.12"/>
<polyline points="278.5,427.5 278.5,437.5 284.5,437.5 284.5,427.5" stroke-width="1.01"/>
<polyline points="303.5,427.5 303.5,440.5" stroke-width="1.01"/>
<polyline points="306.5,427.5 306.5,440.5" stroke-width="1.01"/>
<polyline points="313.5,427.5 313.5,440.5" stroke-width="1.01"/>
<polyline points="314,436 329,436" stroke-width="1.78"/>
<polyline points="328.5,427.5 328.5,443.5" stroke-width="1.12"/>
<polyline points="332.5,427.5 332.5,443.5" stroke-width="1.01"/>
<path d="M 309.5,440.5 V 473.5 L 312.5,476.5 H 331.5 L 333.5,473.5 V 443.5" stroke-width="1.12"/>
<polyline points="312.5,440.5 312.5,473.5" stroke-width="1.12"/>
<polyline points="331.5,440.5 331.5,473.5" stroke-width="1.12"/>
<polyline points="309.5,473.5 333.5,473.5" stroke-width="1.12"/>
<polyline points="328.5,443.5 365.5,443.5" stroke-width="1.12"/>
<path d="M 340.5,443.5 V 473.5 L 342.5,476.5 H 362.5 L 364.5,473.5 V 443.5" stroke-width="1.12"/>
<polyline points="342.5,443.5 342.5,473.5" stroke-width="1.12"/>
<polyline points="362.5,443.5 362.5,473.5" stroke-width="1.12"/>
<polyline points="340.5,473.5 364.5,473.5" stroke-width="1.12"/>
<polyline points="365.5,427.5 365.5,442.5 372.5,442.5" stroke-width="1.01"/>
<polyline points="368.5,427.5 368.5,442.5" stroke-width="0.9"/>
<rect x="365.5" y="427.5" width="48" height="16" stroke-width="1.12"/>
<polyline points="370.5,427.5 370.5,443.5" stroke-width="1.12"/>
<polyline points="414,427 414,438" stroke-width="2.31"/>
<polyline points="412.5,443.5 414.5,438.5" stroke-width="0.9"/>
<path d="M 571.5,371.5 V 352.5 Q 572.5,345.5 580.5,344.5 H 722.5 Q 730.5,344.5 731.5,352.5 V 378.5" stroke-width="1.12"/>
<polyline points="578.5,344.5 578.5,371.5" stroke-width="1.01"/>
<polyline points="580.5,351.5 580.5,371.5" stroke-width="1.01"/>
<polyline points="582.5,344.5 582.5,371.5" stroke-width="1.12"/>
<polyline points="582.5,345.5 598.5,345.5" stroke-width="0.9"/>
<polyline points="598.5,344.5 598.5,351.5" stroke-width="1.12"/>
<polyline points="601.5,351.5 601.5,365.5" stroke-width="1.12"/>
<polyline points="572.5,351.5 731.5,351.5" stroke-width="1.12"/>
<polyline points="671.5,344.5 671.5,378.5" stroke-width="1.12"/>
<polyline points="675.5,344.5 675.5,370.5" stroke-width="1.12"/>
<polyline points="700.5,344.5 700.5,351.5" stroke-width="0.9"/>
<polyline points="704.5,344.5 704.5,351.5" stroke-width="0.9"/>
<polyline points="718.5,344.5 718.5,351.5" stroke-width="0.9"/>
<polyline points="709.5,351.5 709.5,357.5" stroke-width="0.9"/>
<polyline points="722.5,351.5 722.5,370.5" stroke-width="0.9"/>
<path d="M 554,427 V 371 H 588 V 390" stroke-width="1.89"/>
<polyline points="572,371 572,427" stroke-width="1.89"/>
<polyline points="553.5,427.5 584.5,427.5" stroke-width="1.12"/>
<polyline points="595.5,389.5 595.5,357.5 598.5,362.5 598.5,389.5" stroke-width="1.12"/>
<polyline points="632.5,389.5 632.5,357.5 629.5,362.5 629.5,389.5" stroke-width="1.12"/>
<polyline points="598.5,365.5 629.5,365.5" stroke-width="1.12"/>
<polyline points="588.5,378.5 595.5,378.5" stroke-width="1.12"/>
<polyline points="632.5,378.5 671.5,378.5" stroke-width="1.12"/>
<path d="M 583.5,423.5 V 389.5 H 644.5 V 423.5 Q 644.5,427.5 640.5,427.5 H 587.5 Q 583.5,427.5 583.5,423.5 Z" stroke-width="1.12"/>
<polyline points="587.5,389.5 587.5,427.5" stroke-width="1.12"/>
<polyline points="640.5,389.5 640.5,427.5" stroke-width="1.12"/>
<polyline points="645.5,378.5 645.5,422.5" stroke-width="1.12"/>
<polyline points="657.5,378.5 657.5,422.5" stroke-width="1.12"/>
<polyline points="659.5,378.5 659.5,422.5" stroke-width="1.12"/>
<polyline points="645.5,380.5 657.5,380.5" stroke-width="0.9"/>
<path d="M 687.5,345.5 V 316.5 Q 688.5,314.5 690.5,314.5 H 696.5 V 345.5" stroke-width="1.12"/>
<polyline points="690.5,316.5 696.5,316.5" stroke-width="0.9"/>
<polyline points="687.5,345.5 675.5,369.5" stroke-width="1.37"/>
<polyline points="696.5,345.5 726.5,369.5" stroke-width="1.37"/>
<polyline points="675.5,370.5 726.5,370.5" stroke-width="1.37"/>
<path d="M 675.5,370.5 V 410.5 H 687.5 V 405.5 H 715.5 V 410.5 H 726.5 V 370.5" stroke-width="1.37"/>
<polyline points="684.5,370.5 684.5,405.5" stroke-width="1.12"/>
<polyline points="686.5,376.5 686.5,398.5" stroke-width="0.9"/>
<polyline points="715.5,376.5 715.5,405.5" stroke-width="1.12"/>
<polyline points="717.5,370.5 717.5,398.5" stroke-width="1.12"/>
<polyline points="722.5,370.5 722.5,405.5" stroke-width="0.9"/>
<polyline points="687.5,405.5 687.5,398.5" stroke-width="0.9"/>
<polyline points="690.5,405.5 690.5,408.5 712.5,408.5 712.5,405.5" stroke-width="0.9"/>
<rect x="694.5" y="370.5" width="13" height="14" stroke-width="1.12"/>
<rect x="697.5" y="380.5" width="8" height="4" stroke-width="1.01"/>
<polyline points="697.5,382.5 705.5,382.5" stroke-width="0.9"/>
<path d="M 732.5,379.5 V 327.5 Q 732.5,325.5 734.5,325.5 H 762.5 V 353.5 L 756.5,354.5 V 369.5 H 739.5" stroke-width="1.12"/>
<path d="M 733.5,326.5 Q 736.5,330.5 736.5,337.5 V 427.5" stroke-width="1.01"/>
<polyline points="740,325 740,369" stroke-width="1.78"/>
<polyline points="739.5,369.5 739.5,421.5" stroke-width="1.01"/>
<polyline points="748,325 748,369" stroke-width="1.78"/>
<polyline points="750.5,325.5 750.5,419.5" stroke-width="1.12"/>
<polyline points="746.5,369.5 746.5,421.5" stroke-width="1.01"/>
<polyline points="760.5,334.5 760.5,353.5" stroke-width="1.01" stroke="#777"/>
<polyline points="742.5,383.5 742.5,421.5" stroke-width="1.01"/>
<polyline points="736.5,383.5 742.5,383.5" stroke-width="0.9"/>
<polyline points="736.5,401.5 742.5,401.5" stroke-width="0.9"/>
<polyline points="739.5,421.5 746.5,421.5" stroke-width="1.01"/>
<polyline points="746.5,419.5 750.5,419.5" stroke-width="1.01"/>
<rect x="733.5" y="361.5" width="2" height="3" stroke-width="0.67" fill="#999"/>
<path d="M 728.5,378.5 V 427.5 M 731.5,378.5 H 736.5 M 645.5,422.5 H 728.5 M 588.5,427.5 H 729.5 Q 735.5,426.5 736.5,421.5" stroke-width="1.12"/>
<polyline points="728.5,378.5 731.5,378.5" stroke-width="0.9"/>
<rect x="647.5" y="422.5" width="8" height="4" stroke-width="0.9"/>
<path d="M 557.5,428.5 V 524.5 M 587.5,430.5 L 576.5,511.5 L 564.5,524.5" stroke-width="1.42"/>
<path d="M 554.5,424.5 H 550.5 V 432.5 L 554.5,434.5" stroke-width="1.12"/>
<polygon points="551.5,521.5 560.5,525.5 556.5,531.5" stroke-width="1.12"/>
<polygon points="565.5,531.5 571.5,543.5 565.5,543.5" stroke-width="1.12"/>
<polyline points="560.5,524.5 564.5,524.5 564.5,570.5 544.5,570.5 544.5,542.5 560.5,525.5" stroke-width="1.37"/>
<polyline points="544.5,554.5 564.5,554.5" stroke-width="1.12"/>
<path d="M 544.5,549.5 H 538.5 Q 534.5,550.5 534.5,554.5 Q 534.5,558.5 538.5,559.5 H 544.5" stroke-width="1.34"/>
<rect x="540.5" y="552.5" width="4" height="4" stroke-width="1.01"/>
<path d="M 595.5,427.5 V 441.5 Q 595.5,444.5 598.5,444.5 H 621.5 Q 624.5,444.5 625.5,441.5 V 427.5" stroke-width="1.12"/>
<polyline points="597.5,440.5 622.5,440.5" stroke-width="1.12"/>
<polyline points="597.5,427.5 597.5,440.5" stroke-width="0.9"/>
<polyline points="622.5,427.5 622.5,440.5" stroke-width="0.9"/>
<rect x="628.5" y="435.5" width="44" height="41" rx="3" stroke-width="1.12"/>
<polyline points="633.5,436.5 633.5,473.5 668.5,473.5 668.5,436.5" stroke-width="1.12"/>
<polyline points="633.5,473.5 631.5,475.5" stroke-width="0.9"/>
<polyline points="668.5,473.5 671.5,475.5" stroke-width="0.9"/>
<polyline points="632,436 671,436" stroke-width="1.68"/>
<polyline points="646.5,427.5 646.5,435.5" stroke-width="1.12"/>
<polyline points="650.5,427.5 650.5,435.5" stroke-width="1.12"/>
<polyline points="666.5,427.5 666.5,435.5" stroke-width="1.12"/>
<polyline points="670.5,427.5 670.5,435.5" stroke-width="1.12"/>
<polyline points="640.5,427.5 640.5,432.5 646.5,432.5" stroke-width="0.9"/>
<path d="M 683.5,427.5 V 441.5 Q 684.5,444.5 686.5,444.5 H 717.5 Q 719.5,444.5 720.5,441.5 V 427.5" stroke-width="1.12"/>
<polyline points="686.5,427.5 686.5,441.5" stroke-width="1.01"/>
<polyline points="691.5,427.5 691.5,441.5" stroke-width="1.01"/>
<polyline points="693.5,427.5 693.5,444.5" stroke-width="1.01"/>
<polyline points="698.5,427.5 698.5,444.5" stroke-width="1.01"/>
<polyline points="713.5,427.5 713.5,444.5" stroke-width="1.01"/>
<polyline points="717.5,427.5 717.5,444.5" stroke-width="1.01"/>
<polyline points="686.5,441.5 691.5,441.5" stroke-width="0.9"/>
<polyline points="698.5,442.5 713.5,442.5" stroke-width="0.9"/>
</svg>
</body></html>
